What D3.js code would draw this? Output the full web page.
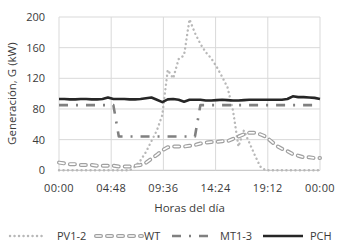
<!DOCTYPE html>
<html>
<head>
<meta charset="utf-8">
<script src="https://cdn.jsdelivr.net/npm/d3@7"></script>
<style>
  body { margin: 0; background: #fff; }
  text { font-family: "Open Sans", sans-serif; fill: #3a3a3a; }
</style>
</head>
<body>
<div id="chart"></div>
<script>
// hours of the day, every 30 min
const hours = d3.range(0, 24.5, 0.5);

const pv = [0,0,0,0,0,0,0,0,0,0,0,0,0,0,5,13,24,38,52,72,131,120,145,150,197,179,165,154,146,135,122,108,78,31,52,36,20,5,0,0,0,0,0,0,0,0,0,0,0];
const wt = [10,9,8,8,7,7,7,6,6,6,6,5,5,5,6,7,10,15,20,26,30,31,31,31,32,33,35,36,37,37,38,38,41,44,47,49,49,47,44,38,32,28,25,21,19,17,17,16,16];
const mt = [85,85,85,85,85,85,85,85,85,85,85,44,44,44,44,44,44,44,44,44,44,44,44,44,44,44,85,85,85,85,85,85,85,85,85,85,85,85,85,85,85,85,85,85,85,85,85,85,85];
const pch = [93,93,92.5,92.5,93,93,92.5,92.5,93,95,93,93,93,92.5,92.5,93,94,95,92,89,92.5,93,92,89.5,92,92,92,91,91,91.5,92,91.5,91,91,91.5,92,92,92,92,92,92,92,93,96.5,95.5,95.5,95,94.5,93];

const xTicks = [0, 4.8, 9.6, 14.4, 19.2, 24];
const xTickLabels = ["00:00", "04:48", "09:36", "14:24", "19:12", "00:00"];
const yTicks = [0, 40, 80, 120, 160, 200];

const series = [
  {name: "PV1-2", values: pv},
  {name: "WT", values: wt},
  {name: "MT1-3", values: mt},
  {name: "PCH", values: pch}
];

const width = 341, height = 250;
const svg = d3.select("#chart").append("svg")
  .attr("width", width)
  .attr("height", height);

const x = d3.scaleLinear().domain([0, 24]).range([59, 320]);
const y = d3.scaleLinear().domain([0, 200]).range([170.3, 17]);

// grid
svg.append("g").selectAll("line")
  .data(yTicks)
  .enter().append("line")
  .attr("x1", x(0)).attr("x2", x(24))
  .attr("y1", d => y(d)).attr("y2", d => y(d))
  .attr("stroke", d => d == 0 ? "#bfbfbf" : "#d9d9d9")
  .attr("stroke-width", 1);

svg.append("g").selectAll("line")
  .data(xTicks)
  .enter().append("line")
  .attr("x1", d => x(d)).attr("x2", d => x(d))
  .attr("y1", y(0)).attr("y2", y(200))
  .attr("stroke", "#d9d9d9")
  .attr("stroke-width", 1);

// tick labels
svg.append("g").selectAll("text")
  .data(yTicks)
  .enter().append("text")
  .attr("x", 45)
  .attr("y", d => y(d))
  .attr("dy", "0.36em")
  .attr("text-anchor", "end")
  .style("font-size", "11px")
  .text(d => d);

svg.append("g").selectAll("text")
  .data(xTicks)
  .enter().append("text")
  .attr("x", d => x(d))
  .attr("y", 188)
  .attr("dy", "0.36em")
  .attr("text-anchor", "middle")
  .style("font-size", "11px")
  .style("letter-spacing", "0.4px")
  .text((d, i) => xTickLabels[i]);

// axis titles
svg.append("text")
  .attr("x", (x(0) + x(24)) / 2)
  .attr("y", 208)
  .attr("dy", "0.36em")
  .attr("text-anchor", "middle")
  .style("font-size", "11.5px")
  .text("Horas del día");

svg.append("text")
  .attr("transform", `translate(12,${(y(0) + y(200)) / 2}) rotate(-90)`)
  .attr("dy", "0.36em")
  .attr("text-anchor", "middle")
  .style("font-size", "11.5px")
  .text("Generación, G (kW)");

// line styles
const styles = {
  "PV1-2": [{stroke: "#b8b8b8", width: 2.4, dash: "0.1,4.4", cap: "round"}],
  "WT": [
    {stroke: "#a0a0a0", width: 4, dash: "5,6", cap: "round"},
    {stroke: "#ffffff", width: 1.6, dash: "5,6", cap: "round"}
  ],
  "MT1-3": [{stroke: "#808080", width: 2.6, dash: "9,8,2,8", cap: "butt"}],
  "PCH": [{stroke: "#262626", width: 2.6, dash: null, cap: "butt"}]
};

const line = d3.line()
  .x((d, i) => x(hours[i]))
  .y(d => y(d));

const plot = svg.append("g");
series.forEach(s => {
  styles[s.name].forEach(st => {
    plot.append("path")
      .datum(s.values)
      .attr("d", line)
      .attr("fill", "none")
      .attr("stroke", st.stroke)
      .attr("stroke-width", st.width)
      .attr("stroke-dasharray", st.dash)
      .attr("stroke-linecap", st.cap)
      .attr("stroke-linejoin", "round");
  });
});

// legend
const legendItems = [
  {name: "PV1-2", x1: 10, x2: 44, tx: 57},
  {name: "WT", x1: 96, x2: 142, tx: 144},
  {name: "MT1-3", x1: 172, x2: 211, tx: 220},
  {name: "PCH", x1: 263, x2: 303, tx: 310}
];
const ly = 236;
const legend = svg.append("g");
legendItems.forEach(item => {
  styles[item.name].forEach(st => {
    legend.append("line")
      .attr("x1", item.x1).attr("x2", item.x2)
      .attr("y1", ly).attr("y2", ly)
      .attr("stroke", st.stroke)
      .attr("stroke-width", st.width)
      .attr("stroke-dasharray", st.dash)
      .attr("stroke-linecap", st.cap);
  });
  legend.append("text")
    .attr("x", item.tx)
    .attr("y", ly)
    .attr("dy", "0.36em")
    .style("font-size", "11px")
    .text(item.name);
});
</script>
</body>
</html>
